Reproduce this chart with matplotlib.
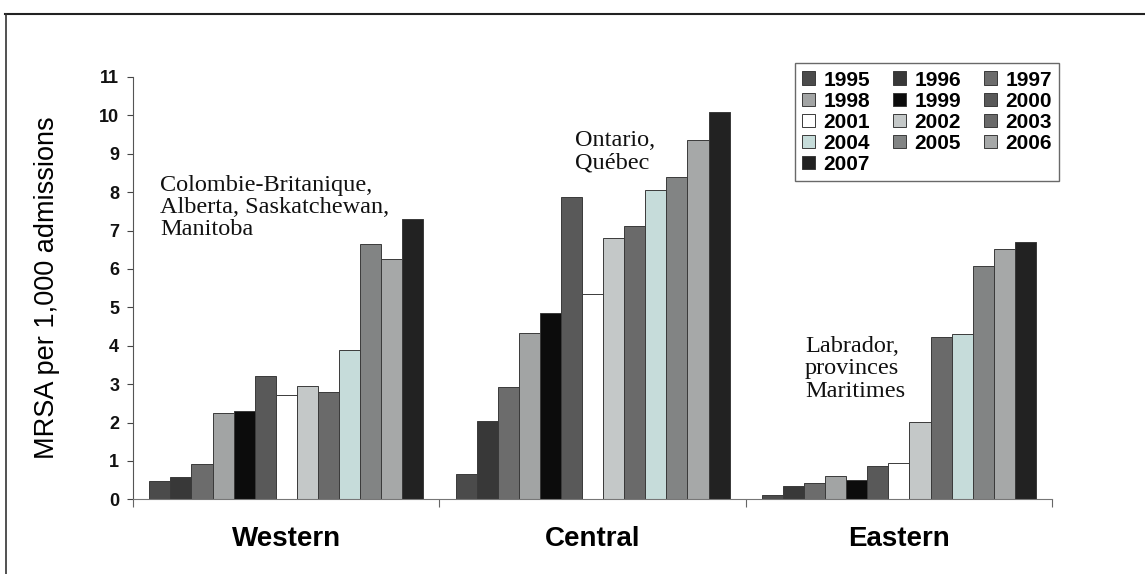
import numpy as np
import matplotlib
matplotlib.use('Agg')
import matplotlib.pyplot as plt
from matplotlib.lines import Line2D

regions = ['Western', 'Central', 'Eastern']
years = ['1995', '1996', '1997', '1998', '1999', '2000', '2001',
         '2002', '2003', '2004', '2005', '2006', '2007']

# MRSA per 1,000 admissions, one list per year: Western, Central, Eastern
mrsa = {
    '1995': [0.49, 0.65, 0.11],
    '1996': [0.57, 2.04, 0.35],
    '1997': [0.92, 2.93, 0.42],
    '1998': [2.25, 4.32, 0.61],
    '1999': [2.31, 4.84, 0.50],
    '2000': [3.21, 7.88, 0.88],
    '2001': [2.71, 5.36, 0.94],
    '2002': [2.95, 6.81, 2.02],
    '2003': [2.80, 7.13, 4.22],
    '2004': [3.90, 8.05, 4.30],
    '2005': [6.64, 8.39, 6.08],
    '2006': [6.27, 9.35, 6.51],
    '2007': [7.29, 10.09, 6.71],
}

colors = ['#4b4b4b', '#383838', '#6c6c6c', '#a2a4a4', '#0c0c0c', '#595959',
          '#ffffff', '#c4c8c8', '#6a6a6a', '#c6dcda', '#828484', '#a6a8a8',
          '#222222']

annotations = [
    (-0.412, 8.45, 'Colombie-Britanique,\nAlberta, Saskatchewan,\nManitoba'),
    (0.943, 9.62, 'Ontario,\nQuébec'),
    (1.694, 4.25, 'Labrador,\nprovinces\nMaritimes'),
]

fig = plt.figure(figsize=(11.45, 5.74), dpi=100)
ax = fig.add_axes([0.1162, 0.130, 0.8026, 0.736])

x = np.arange(len(regions))
w = 0.0688
start = -0.5 + 0.053
handles = []
for i, yr in enumerate(years):
    pos = x + start + w * (i + 0.5)
    ax.bar(pos, mrsa[yr], width=w, color=colors[i], edgecolor='#3a3a3a',
           linewidth=0.7)
    handles.append(plt.Rectangle((0, 0), 1, 1, facecolor=colors[i],
                                 edgecolor='#3a3a3a', linewidth=0.7))

ax.set_xlim(-0.5, 2.5)
ax.set_ylim(0, 11)
ax.set_yticks(range(0, 12))
ax.set_xticks([-0.5, 0.5, 1.5, 2.5])
ax.set_xticklabels([])
ax.tick_params(axis='y', labelsize=13, length=4, width=0.8, pad=6,
               colors='#444444', labelcolor='#111111')
ax.tick_params(axis='x', length=6, width=0.8, colors='#666666')
for lbl in ax.get_yticklabels():
    lbl.set_family('Liberation Sans')
    lbl.set_fontweight('bold')
for s in ['top', 'right']:
    ax.spines[s].set_visible(False)
ax.spines['left'].set_color('#555555')
ax.spines['bottom'].set_color('#777777')

for i, r in enumerate(regions):
    ax.text(i, -1.03, r, ha='center', va='center', fontsize=20,
            fontweight='bold', family='Liberation Sans')

ax.set_ylabel('MRSA per 1,000 admissions', fontsize=19.5,
              family='Liberation Sans', labelpad=28)

for xa, ya, t in annotations:
    ax.text(xa, ya, t, ha='left', va='top', fontsize=17.5,
            family='Liberation Serif', linespacing=1.08, color='#111111')

# legend laid out row by row, as in the source
order = [0, 3, 6, 9, 12, 1, 4, 7, 10, 2, 5, 8, 11]
leg = ax.legend([handles[k] for k in order], [years[k] for k in order],
                ncol=3, loc='upper right', bbox_to_anchor=(1.0076, 1.0324),
                borderaxespad=0,
                prop={'family': 'Liberation Sans', 'weight': 'bold',
                      'size': 15},
                handlelength=0.62, handleheight=0.62, handletextpad=0.4,
                columnspacing=1.1, labelspacing=0.1, borderpad=0.35,
                fancybox=False, frameon=True)
leg.get_frame().set_edgecolor('#444444')
leg.get_frame().set_linewidth(1.0)

# outer frame of the original figure
fig.add_artist(Line2D([0.004, 1.0], [0.976, 0.976], color='#222222',
                      linewidth=1.5, transform=fig.transFigure))
fig.add_artist(Line2D([0.005, 0.005], [0.0, 0.976], color='#333333',
                      linewidth=1.2, transform=fig.transFigure))

fig.savefig('out.png', dpi=100)
plt.close(fig)
